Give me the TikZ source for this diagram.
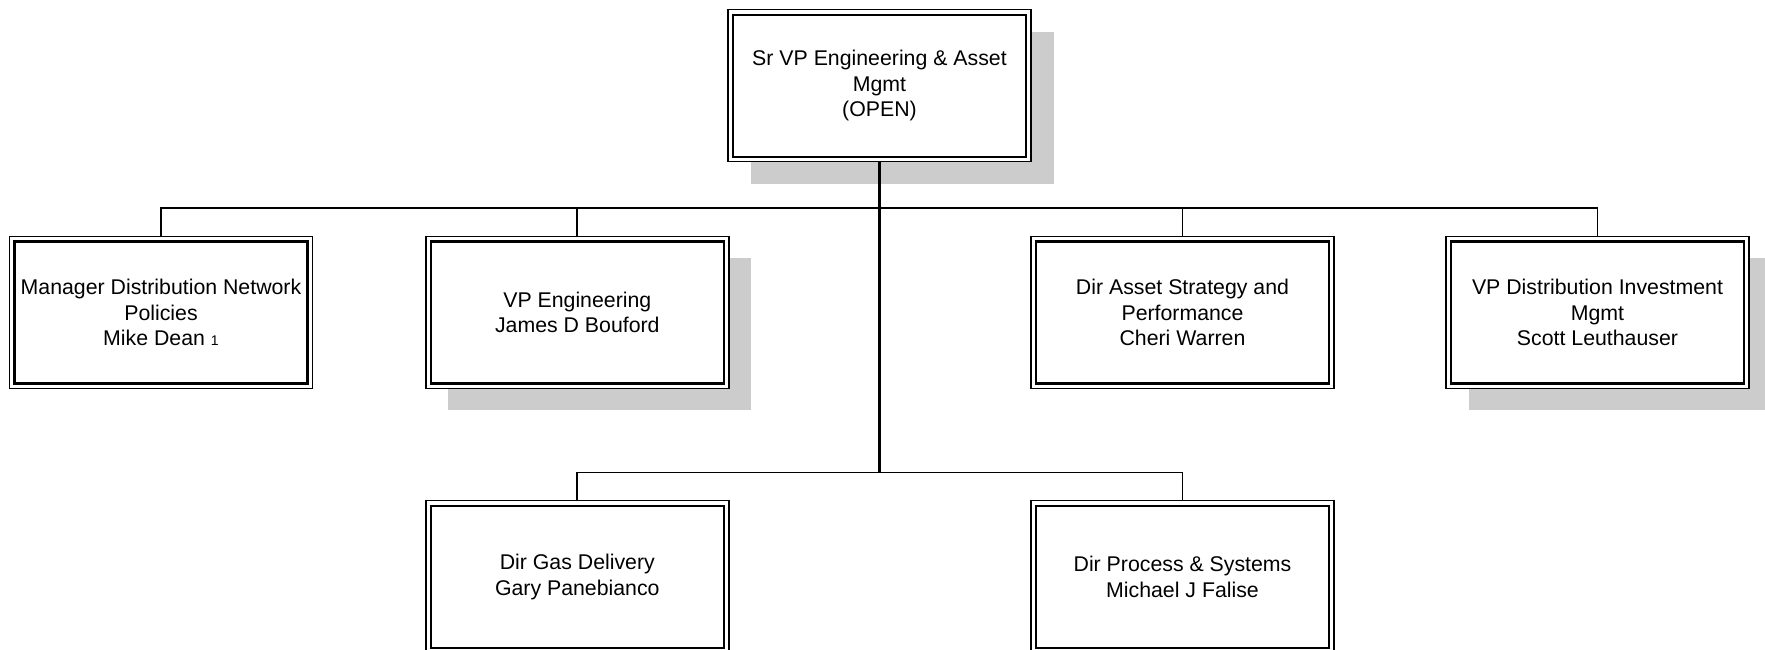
\documentclass[tikz,border=0pt]{standalone}
\usepackage{fontspec}
\setmainfont{Liberation Sans}
\usetikzlibrary{backgrounds}
\begin{document}
\begin{tikzpicture}[x=1pt,y=1pt,
  orgbox/.style={draw, line width=1.4pt, fill=white, minimum width=303pt, minimum height=152pt,
    inner sep=0pt, outer sep=0pt, align=center, font=\fontsize{21.3}{25.7}\selectfont},
  conn/.style={line width=1.9pt},
  innerframe/.style={line width=2.3pt},
  shadowbox/.style={fill=black!20}]
\useasboundingbox (0,0) rectangle (1765,650);
% nodes
\node[orgbox] (top) at (879.5,564.25) {Sr VP Engineering \& Asset\\Mgmt\\(OPEN)};
\node[orgbox] (m1) at (161,337.5) {Manager Distribution Network\\Policies\\Mike Dean {\fontsize{14}{14}\selectfont 1}};
\node[orgbox] (m2) at (577.3,337.5) {VP Engineering\\James D Bouford};
\node[orgbox] (m3) at (1182.5,337.5) {Dir Asset Strategy and\\Performance\\Cheri Warren};
\node[orgbox] (m4) at (1597.5,337.5) {VP Distribution Investment\\Mgmt\\Scott Leuthauser};
\node[orgbox] (m5) at (577.3,73.3) {Dir Gas Delivery\\Gary Panebianco};
\node[orgbox] (m6) at (1182.5,73.3) {Dir Process \& Systems\\Michael J Falise};
% inner frames
\foreach \n in {top,m1,m2,m3,m4,m5,m6}{
  \draw[innerframe] ([shift={(5,5)}]\n.south west) rectangle ([shift={(-5,-5)}]\n.north east);
}
% shadows
\begin{pgfonlayer}{background}
\foreach \n in {top,m2,m4}{
  \fill[shadowbox] ([shift={(22.5,-22)}]\n.south west) rectangle ([shift={(22.5,-22)}]\n.north east);
}
\end{pgfonlayer}
% connectors
\coordinate (j1) at (879.5,442);
\coordinate (j2) at (879.5,177.5);
\draw[conn, line width=2.3pt] (top.south) -- (j2);
\draw[conn] (m1.north) -- (m1.north |- j1) -- (m4.north |- j1) -- (m4.north);
\draw[conn] (m2.north) -- (m2.north |- j1);
\draw[conn] (m3.north) -- (m3.north |- j1);
\draw[conn] (m5.north) -- (m5.north |- j2) -- (m6.north |- j2) -- (m6.north);
\end{tikzpicture}
\end{document}
